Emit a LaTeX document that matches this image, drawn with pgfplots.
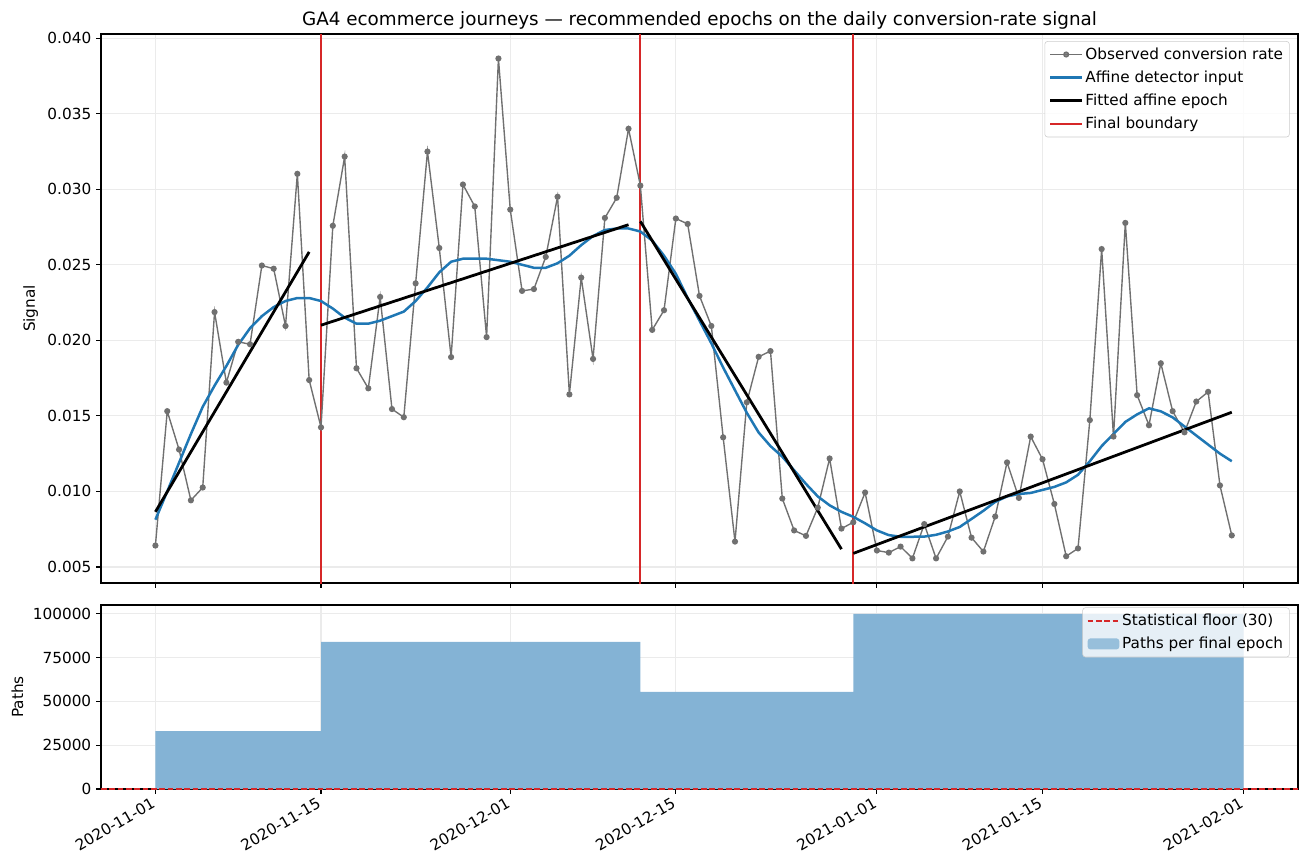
\documentclass[border=0pt]{standalone}
\usepackage{fontspec}
\setmainfont{DejaVu Sans}
\usepackage{pgfplots}
\usepackage{pgfplotstable}
\pgfplotsset{compat=1.18}
\definecolor{obsgray}{HTML}{707070}
\definecolor{tabblue}{HTML}{1F77B4}
\definecolor{tabred}{HTML}{D62728}
\definecolor{barblue}{HTML}{84B3D5}

\pgfplotstableread{
day obs smooth
0 0.00642 0.00813
1 0.01531 0.0100
2 0.01277 0.0119
3 0.00941 0.0138
4 0.01026 0.0156
5 0.02187 0.0170
6 0.0172 0.0183
7 0.0199 0.0197
8 0.01974 0.0208
9 0.02495 0.0216
10 0.02474 0.0222
11 0.02095 0.0226
12 0.03102 0.0228
13 0.01737 0.0228
14 0.01424 0.0226
15 0.02758 0.0221
16 0.03216 0.0215
17 0.01815 0.0211
18 0.01682 0.0211
19 0.02287 0.0213
20 0.01545 0.0216
21 0.01491 0.0219
22 0.02377 0.0226
23 0.03249 0.0235
24 0.02611 0.0245
25 0.01889 0.0252
26 0.03031 0.0254
27 0.02886 0.0254
28 0.02021 0.0254
29 0.03865 0.0253
30 0.02865 0.0252
31 0.02327 0.0250
32 0.02339 0.0248
33 0.02552 0.0248
34 0.0295 0.0251
35 0.01642 0.0256
36 0.02415 0.0263
37 0.01877 0.0269
38 0.0281 0.0273
39 0.02943 0.0274
40 0.034 0.0274
41 0.03024 0.0272
42 0.02069 0.0266
43 0.02199 0.0256
44 0.02806 0.0244
45 0.0277 0.0228
46 0.02294 0.0213
47 0.02095 0.0198
48 0.01358 0.0182
49 0.00668 0.0167
50 0.0159 0.0152
51 0.01891 0.0139
52 0.01929 0.0130
53 0.00953 0.0123
54 0.00742 0.0114
55 0.00706 0.0105
56 0.00893 0.00967
57 0.01218 0.00908
58 0.00754 0.00865
59 0.00796 0.00832
60 0.00993 0.00789
61 0.00609 0.00742
62 0.00595 0.00711
63 0.00635 0.00700
64 0.00557 0.00700
65 0.00784 0.00701
66 0.00557 0.00713
67 0.00701 0.00735
68 0.0100 0.00765
69 0.00694 0.00818
70 0.00602 0.00872
71 0.00834 0.00931
72 0.01192 0.00967
73 0.00957 0.00983
74 0.01363 0.0099
75 0.01213 0.0101
76 0.00917 0.0103
77 0.00571 0.0106
78 0.00623 0.0111
79 0.01472 0.0120
80 0.02604 0.0130
81 0.01363 0.0138
82 0.02777 0.0146
83 0.01637 0.0151
84 0.01438 0.0155
85 0.01848 0.0153
86 0.01531 0.0149
87 0.01391 0.0143
88 0.01595 0.0137
89 0.01659 0.0131
90 0.0104 0.0125
91 0.00709 0.0120
}\signal

\pgfplotsset{
  common/.style={
    scale only axis,
    width=861.84pt,
    xmin=-4.6, xmax=96.6,
    xtick={0,14,30,44,61,75,92},
    tick align=outside,
    xtick pos=bottom, ytick pos=left,
    major tick length=3.5pt,
    every tick/.style={black, line width=0.8pt},
    axis line style={line width=0.8pt},
    grid=major,
    major grid style={black!8, line width=0.8pt},
    tick label style={font=\fontsize{11}{13}\selectfont},
    label style={font=\fontsize{11}{13}\selectfont},
    scaled y ticks=false,
    /pgf/number format/assume math mode=true,
    legend cell align=left,
    legend style={
      draw=black!20, rounded corners=2pt, fill=white, fill opacity=0.8,
      text opacity=1, font=\fontsize{11}{13}\selectfont,
      inner sep=3pt, row sep=3.8pt,
      nodes={inner sep=1.5pt},
      at={(0.993,0.987)}, anchor=north east},
    legend image code/.code={
      \draw[mark repeat=2,mark phase=2,##1] plot coordinates {(0cm,0cm) (0.4cm,0cm) (0.8cm,0cm)};},
  }
}

\begin{document}
\begin{tikzpicture}
\path[use as bounding box] (0,0) rectangle (941.76pt,-624.24pt);

\begin{axis}[common,
  at={(72.72pt,-24.48pt)}, anchor=north west,
  height=395.28pt,
  ymin=0.00394, ymax=0.04027,
  ytick={0.005,0.010,0.015,0.020,0.025,0.030,0.035,0.040},
  yticklabel style={/pgf/number format/.cd, fixed, fixed zerofill, precision=3},
  xticklabels={},
  ylabel={Signal},
  title={GA4 ecommerce journeys — recommended epochs on the daily conversion-rate signal},
  title style={font=\fontsize{13.2}{15}\selectfont, yshift=-6pt},
]
\addplot[tabred, line width=1.3pt, forget plot] coordinates {(14,0) (14,1)};
\addplot[tabred, line width=1.3pt, forget plot] coordinates {(41,0) (41,1)};
\addplot[tabred, line width=1.3pt, forget plot] coordinates {(59,0) (59,1)};

\addplot[obsgray, line width=1pt, mark=*, mark size=1.7pt, mark options={fill=obsgray, draw=obsgray}] table[x=day, y=obs] {\signal};
\addlegendentry{Observed conversion rate}
\addplot[tabblue, line width=1.8pt, no marks] table[x=day, y=smooth] {\signal};
\addlegendentry{Affine detector input}
\addplot[black, line width=2pt, no marks] coordinates {(0,0.00865) (13,0.02585)};
\addlegendentry{Fitted affine epoch}
\addplot[black, line width=2pt, no marks, forget plot] coordinates {(14,0.0210) (40,0.02765)};
\addplot[black, line width=2pt, no marks, forget plot] coordinates {(41,0.02787) (58,0.00618)};
\addplot[black, line width=2pt, no marks, forget plot] coordinates {(59,0.0059) (91,0.01524)};
\addlegendimage{tabred, line width=1.3pt}
\addlegendentry{Final boundary}
\end{axis}

\begin{axis}[common,
  at={(72.72pt,-435.6pt)}, anchor=north west,
  height=132.48pt,
  ymin=0, ymax=105000,
  ytick={0,25000,50000,75000,100000},
  yticklabel style={/pgf/number format/.cd, fixed, set thousands separator={}},
  xticklabels={2020-11-01,2020-11-15,2020-12-01,2020-12-15,2021-01-01,2021-01-15,2021-02-01},
  xticklabel style={rotate=30, anchor=north east, inner sep=1pt, xshift=-3pt, yshift=1pt},
  ylabel={Paths},
]
\addplot[const plot, fill=barblue, draw=none, forget plot] coordinates {(0,33100) (14,84000) (41,55400) (59,100000) (92,100000)} \closedcycle;
\addplot[tabred, line width=1.2pt, dash pattern=on 4pt off 2pt] coordinates {(-4.6,30) (96.6,30)};
\addlegendentry{Statistical floor (30)}
\addlegendimage{area legend, fill=barblue, draw=none, legend image code/.code={\fill[barblue] (0cm,-0.14cm) rectangle (0.8cm,0.14cm);}}
\addlegendentry{Paths per final epoch}
\end{axis}
\end{tikzpicture}
\end{document}
